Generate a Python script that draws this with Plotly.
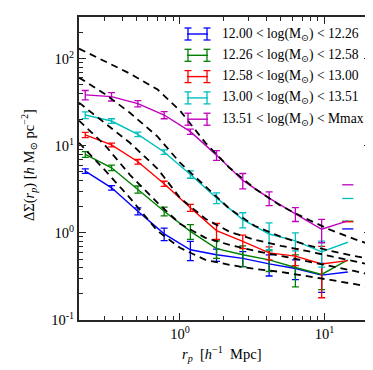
import plotly.graph_objects as go

# ---------------- data ----------------
r_p = [0.221, 0.336, 0.511, 0.777, 1.18, 1.79, 2.72, 4.14, 6.29, 9.56, 14.5]

labels = [
    "12.00 &lt; log(M<sub>⊙</sub>) &lt; 12.26",
    "12.26 &lt; log(M<sub>⊙</sub>) &lt; 12.58",
    "12.58 &lt; log(M<sub>⊙</sub>) &lt; 13.00",
    "13.00 &lt; log(M<sub>⊙</sub>) &lt; 13.51",
    "13.51 &lt; log(M<sub>⊙</sub>) &lt; Mmax",
]
colors = ["#0000ff", "#008000", "#ff0000", "#00bfbf", "#bf00bf"]

ds_b = [5.12, 3.29, 1.77, 0.975, 0.64, 0.56, 0.51, 0.44, 0.39, 0.327, 0.356]
err_b = [0.30, 0.20, 0.16, 0.16, 0.16, 0.09, 0.10, 0.12, 0.10, 0.12, 0.754]
ds_g = [7.94, 5.58, 3.15, 1.77, 1.04, 0.66, 0.56, 0.49, 0.40, 0.333, 0.49]
err_g = [0.60, 0.40, 0.30, 0.20, 0.20, 0.15, 0.15, 0.13, 0.16, 0.11, 0.87]
ds_r = [13.3, 10.2, 6.55, 3.66, 1.94, 1.06, 0.80, 0.589, 0.54, 0.44, 0.48]
err_r = [0.90, 0.50, 0.40, 0.25, 0.18, 0.22, 0.14, 0.10, 0.12, 0.26, 0.86]
ds_c = [22.5, 19.2, 13.5, 8.47, 4.68, 2.52, 1.42, 0.97, 0.81, 0.605, 0.78]
err_c = [2.0, 1.2, 0.8, 0.5, 0.45, 0.35, 0.28, 0.33, 0.19, 0.20, 1.70]
ds_m = [38.3, 36.6, 30.4, 22.5, 14.5, 7.8, 4.0, 2.5, 1.65, 1.10, 1.37]
err_m = [4.7, 4.0, 2.5, 2.1, 1.0, 1.0, 0.8, 0.45, 0.30, 0.33, 2.19]

# model curves (dashed black)
r_model = [0.2, 0.3, 0.45, 0.7, 1.0, 1.5, 2.2, 3.3, 5.0, 7.5, 11, 16, 21]
model_b = [10.8, 5.30, 2.52, 1.05, 0.673, 0.490, 0.429, 0.386, 0.356, 0.321, 0.288, 0.259, 0.239]
model_g = [19.4, 10.3, 4.64, 2.21, 1.27, 0.877, 0.728, 0.621, 0.544, 0.477, 0.418, 0.366, 0.329]
model_r = [31.2, 18.4, 10.8, 5.44, 2.52, 1.45, 1.03, 0.832, 0.710, 0.621, 0.544, 0.477, 0.429]
model_c = [60.5, 39.6, 23.9, 12.7, 6.38, 3.38, 1.89, 1.20, 0.90, 0.728, 0.621, 0.544, 0.502]
model_m = [130, 92.5, 67.3, 44.1, 25.3, 10.8, 5.58, 3.21, 2.04, 1.45, 1.08, 0.853, 0.728]

x_ticks = [1, 10]
x_ticktext = ["10<sup>0</sup>", "10<sup>1</sup>"]
y_ticks = [0.1, 1, 10, 100]
y_ticktext = ["10<sup>-1</sup>", "10<sup>0</sup>", "10<sup>1</sup>", "10<sup>2</sup>"]

series = [(ds_b, err_b), (ds_g, err_g), (ds_r, err_r), (ds_c, err_c), (ds_m, err_m)]
models = [model_b, model_g, model_r, model_c, model_m]

# ---------------- figure ----------------
W, H = 373, 370
ML, MR, MT, MB = 71, 10, 9, 58
PW, PH = W - ML - MR, H - MT - MB
FONT = "Liberation Serif, Times New Roman, DejaVu Serif, serif"
INK = "#262626"

fig = go.Figure()

for (vals, errs), col in zip(series, colors):
    fig.add_trace(go.Scatter(x=r_p, y=vals, mode="lines",
                             line=dict(color=col, width=1.4), showlegend=False,
                             hoverinfo="skip"))
    ex, ey, ee, cx, cy = [], [], [], [], []
    for x, v, e in zip(r_p, vals, errs):
        if e < v:
            ex.append(x); ey.append(v); ee.append(e)
        else:  # lower bound non-positive on log axis: only upper cap shows
            cx.append(x); cy.append(v + e)
    fig.add_trace(go.Scatter(x=ex, y=ey, mode="markers",
                             marker=dict(size=0.1, color=col),
                             error_y=dict(type="data", array=ee, symmetric=True,
                                          color=col, thickness=1.3, width=3.5),
                             showlegend=False, hoverinfo="skip"))
    if cx:
        fig.add_trace(go.Scatter(x=cx, y=cy, mode="markers",
                                 marker=dict(symbol="line-ew", size=8,
                                             line=dict(color=col, width=1.3)),
                                 showlegend=False, hoverinfo="skip"))

for mv in models:
    fig.add_trace(go.Scatter(x=r_model, y=mv, mode="lines",
                             line=dict(color="black", width=1.8, dash="7px,5px"),
                             showlegend=False, hoverinfo="skip"))


def px2paper(px, py):
    return (px - ML) / PW, (MT + PH - py) / PH


# manual legend (errorbar-style handles)
shapes = []
annotations = []
row_y = [26, 47.3, 68.6, 89.9, 111.2]
for lab, col, yy in zip(labels, colors, row_y):
    x0, _ = px2paper(179, yy)
    x1, yc = px2paper(200, yy)
    shapes.append(dict(type="line", xref="paper", yref="paper", x0=x0, x1=x1, y0=yc, y1=yc,
                       line=dict(color=col, width=1.4)))
    for hx in (180, 199):
        xa, yt = px2paper(hx, yy - 6)
        _, yb = px2paper(hx, yy + 6)
        shapes.append(dict(type="line", xref="paper", yref="paper", x0=xa, x1=xa, y0=yb, y1=yt,
                           line=dict(color=col, width=1.3)))
        for yv in (yt, yb):
            xl, _ = px2paper(hx - 3.5, yy)
            xr, _ = px2paper(hx + 3.5, yy)
            shapes.append(dict(type="line", xref="paper", yref="paper", x0=xl, x1=xr, y0=yv, y1=yv,
                               line=dict(color=col, width=1.3)))
    tx, ty = px2paper(212, yy)
    annotations.append(dict(x=tx, y=ty, xref="paper", yref="paper", text=lab,
                            showarrow=False, xanchor="left", yanchor="middle",
                            font=dict(family=FONT, size=13.6, color="black")))

# axis titles
ax_x, ax_y = px2paper(214, 346)
annotations.append(dict(x=ax_x, y=ax_y, xref="paper", yref="paper",
                        text="<i>r</i><sub><i>p</i></sub>  [<i>h</i><sup>−1</sup>  Mpc]",
                        showarrow=False, xanchor="center", yanchor="middle",
                        font=dict(family=FONT, size=14.5, color="black")))
ay_x, ay_y = px2paper(21, 157)
annotations.append(dict(x=ay_x, y=ay_y, xref="paper", yref="paper",
                        text="ΔΣ(<i>r</i><sub><i>p</i></sub>) [<i>h</i> M<sub>⊙</sub> pc<sup>−2</sup>]",
                        showarrow=False, xanchor="center", yanchor="middle", textangle=-90,
                        font=dict(family=FONT, size=14.5, color="black")))


def minor_vals(lo, hi):
    out = []
    for d in range(lo, hi + 1):
        for k in range(2, 10):
            out.append(k * 10.0 ** d)
    return out


axis_common = dict(type="log", showgrid=False, zeroline=False, showline=True,
                   linewidth=2, linecolor=INK, mirror="ticks", ticks="inside",
                   ticklen=7, tickwidth=1.2, tickcolor=INK,
                   tickfont=dict(family=FONT, size=14.5, color="black"))

fig.update_layout(
    width=W, height=H,
    margin=dict(l=ML, r=MR, t=MT, b=MB, autoexpand=False),
    paper_bgcolor="white", plot_bgcolor="white",
    shapes=shapes, annotations=annotations,
    xaxis=dict(range=[-0.699, 1.322], tickvals=x_ticks, ticktext=x_ticktext,
               minor=dict(ticks="inside", ticklen=4, tickwidth=1, tickcolor=INK,
                          tickvals=minor_vals(-1, 1)),
               **axis_common),
    yaxis=dict(range=[-1, 2.477], tickvals=y_ticks, ticktext=y_ticktext,
               minor=dict(ticks="inside", ticklen=4, tickwidth=1, tickcolor=INK,
                          tickvals=minor_vals(-1, 2)),
               **axis_common),
)

fig.write_html("out.html")
